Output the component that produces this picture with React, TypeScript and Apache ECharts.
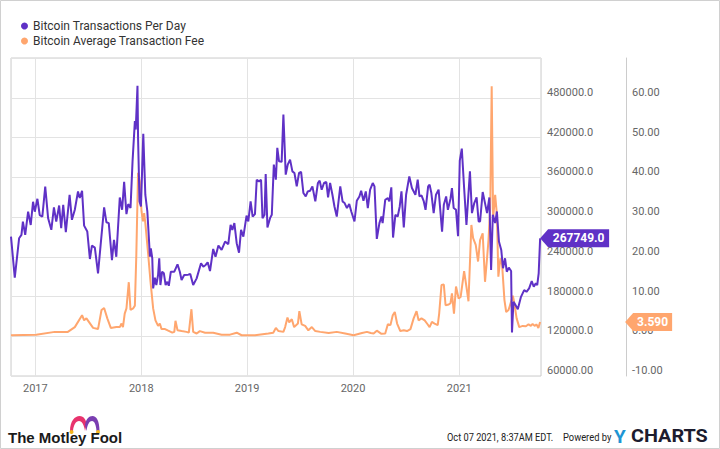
import React, { useEffect, useRef } from "react";
import * as echarts from "echarts";

const txDates = [
  "2016-10-09","2016-10-22","2016-11-06","2016-11-14","2016-11-19","2016-11-27","2016-12-07","2016-12-16","2016-12-24","2016-12-30",
  "2017-01-08","2017-01-16","2017-01-25","2017-02-04","2017-02-14","2017-02-25","2017-03-06","2017-03-14","2017-03-24","2017-03-31",
  "2017-04-07","2017-04-16","2017-04-29","2017-05-07","2017-05-17","2017-05-28","2017-06-03","2017-06-11","2017-06-18","2017-06-29",
  "2017-07-08","2017-07-15","2017-07-25","2017-08-05","2017-08-14","2017-08-26","2017-09-03","2017-09-11","2017-09-22","2017-09-29",
  "2017-10-07","2017-10-19","2017-10-27","2017-11-03","2017-11-11","2017-11-17","2017-11-25","2017-12-02","2017-12-10","2017-12-13",
  "2017-12-19","2017-12-21","2017-12-26","2017-12-31","2018-01-08","2018-01-15","2018-01-22","2018-01-31","2018-02-03","2018-02-08",
  "2018-02-11","2018-02-17","2018-02-22","2018-02-28","2018-03-04","2018-03-08","2018-03-14","2018-03-20","2018-03-26","2018-04-01",
  "2018-04-06","2018-04-13","2018-04-25","2018-05-06","2018-05-14","2018-05-20","2018-05-29","2018-06-12","2018-06-19","2018-06-29",
  "2018-07-11","2018-07-26","2018-08-03","2018-08-11","2018-08-18","2018-08-26","2018-09-06","2018-09-14","2018-09-24","2018-10-05",
  "2018-10-17","2018-10-28","2018-11-05","2018-11-11","2018-11-18","2018-11-26","2018-12-04","2018-12-11","2018-12-19","2018-12-30",
  "2019-01-05","2019-01-13","2019-01-20","2019-01-28","2019-02-03","2019-02-11","2019-02-18","2019-02-23","2019-03-02","2019-03-06",
  "2019-03-12","2019-03-21","2019-03-27","2019-04-03","2019-04-10","2019-04-15","2019-04-21","2019-04-30","2019-05-06","2019-05-14",
  "2019-05-21","2019-05-29","2019-06-06","2019-06-13","2019-06-21","2019-06-29","2019-07-06","2019-07-14","2019-07-22","2019-07-29",
  "2019-08-06","2019-08-14","2019-08-24","2019-09-02","2019-09-08","2019-09-15","2019-09-23","2019-10-01","2019-10-07","2019-10-14",
  "2019-10-22","2019-10-29","2019-11-06","2019-11-18","2019-11-26","2019-12-03","2019-12-11","2019-12-19","2019-12-26","2020-01-06",
  "2020-01-14","2020-01-23","2020-01-29","2020-02-06","2020-02-14","2020-02-21","2020-02-29","2020-03-09","2020-03-15","2020-03-23",
  "2020-04-01","2020-04-08","2020-04-12","2020-04-21","2020-04-30","2020-05-05","2020-05-12","2020-05-18","2020-05-26","2020-06-03",
  "2020-06-10","2020-06-16","2020-06-24","2020-07-02","2020-07-13","2020-07-22","2020-08-03","2020-08-11","2020-08-17","2020-08-24",
  "2020-09-01","2020-09-07","2020-09-16","2020-09-21","2020-09-27","2020-10-05","2020-10-13","2020-10-22","2020-11-03","2020-11-09",
  "2020-11-17","2020-11-23","2020-12-02","2020-12-07","2020-12-13","2020-12-21","2020-12-28","2021-01-03","2021-01-10","2021-01-18",
  "2021-01-26","2021-02-07","2021-02-14","2021-02-22","2021-03-02","2021-03-09","2021-03-14","2021-03-23","2021-03-31","2021-04-07",
  "2021-04-15","2021-04-21","2021-04-27","2021-05-05","2021-05-11","2021-05-18","2021-05-26","2021-06-01","2021-06-08","2021-06-14",
  "2021-06-21","2021-06-29","2021-07-02","2021-07-07","2021-07-14","2021-07-22","2021-08-02","2021-08-13","2021-08-21","2021-08-30",
  "2021-09-08","2021-09-15","2021-09-22","2021-09-27","2021-10-02","2021-10-07"
];
const txValues = [
  270400,208300,268000,273000,293000,273000,308000,288000,323000,308000,
  327500,303000,300700,346000,298000,280600,314400,293000,317400,283000,
  318500,277000,333600,295700,311000,338600,328600,339700,287000,278000,
  236600,256800,253800,215000,258000,314400,292000,290700,235000,265400,
  240000,329500,311000,353000,304400,319500,313500,384000,444700,432000,
  498000,419500,323500,316000,425500,333600,308300,240000,252800,237700,
  192300,208300,197300,212400,237700,197300,217400,215000,197300,202300,
  196200,217400,217400,228600,217400,204800,212400,213000,214000,197300,
  207400,230100,225000,227600,231600,218500,251800,240000,256800,250300,
  262900,259000,288200,280600,290800,260500,246200,280600,270400,302200,
  293200,323500,300700,304400,356300,353800,356300,298300,303300,365000,
  284100,298300,303300,379000,356300,404400,384000,383200,454800,364000,
  379000,386600,368900,366500,346200,366500,368000,336200,331000,338600,
  339700,346200,323500,351300,354800,341200,351300,352800,329500,351300,
  333600,315900,300700,346200,323500,321000,313500,319500,308300,293200,
  324500,331000,339700,324500,338600,313400,341200,351300,346200,267000,
  290800,300700,290800,326000,328600,323500,344700,269000,303300,300700,
  315900,338600,284100,333600,361300,343700,333600,356300,331000,332600,
  323500,310900,346200,348800,336200,305900,333600,341200,278000,318500,
  331000,310900,327600,343700,313500,310900,271000,385100,403300,343700,
  288200,368900,305900,321000,329500,293200,293200,337700,321000,305900,
  329500,220000,303300,290800,308300,262900,250300,222600,237700,217400,
  223500,218500,125600,172000,167000,160900,179500,189700,187100,192300,
  203300,194700,199800,197300,215000,267749
];

const feeDates = [
  "2016-10-09","2017-01-04","2017-03-09","2017-04-23","2017-05-17","2017-06-11","2017-06-18","2017-06-26","2017-07-19","2017-08-05",
  "2017-08-17","2017-08-26","2017-09-06","2017-09-18","2017-10-07","2017-10-19","2017-10-25","2017-10-30","2017-11-05","2017-11-11",
  "2017-11-19","2017-11-25","2017-12-04","2017-12-10","2017-12-15","2017-12-21","2017-12-27","2018-01-02","2018-01-07","2018-01-11",
  "2018-01-15","2018-01-25","2018-02-02","2018-02-11","2018-02-19","2018-02-28","2018-03-06","2018-03-12","2018-03-24","2018-04-04",
  "2018-04-18","2018-04-25","2018-04-29","2018-05-06","2018-05-20","2018-06-06","2018-06-14","2018-06-23","2018-06-29","2018-07-11",
  "2018-07-22","2018-08-09","2018-09-06","2018-10-05","2018-11-03","2018-11-26","2018-12-13","2019-01-28","2019-03-15","2019-04-01",
  "2019-04-10","2019-04-19","2019-05-06","2019-05-12","2019-05-20","2019-05-26","2019-06-04","2019-06-12","2019-06-25","2019-06-30",
  "2019-07-08","2019-07-20","2019-07-31","2019-08-12","2019-08-24","2019-09-10","2019-10-09","2019-11-06","2019-12-05","2020-01-03",
  "2020-02-01","2020-02-18","2020-03-02","2020-03-12","2020-03-23","2020-04-08","2020-04-21","2020-04-30","2020-05-09","2020-05-17",
  "2020-05-24","2020-06-01","2020-06-12","2020-06-24","2020-07-05","2020-07-17","2020-07-28","2020-08-07","2020-08-14","2020-08-24",
  "2020-09-04","2020-09-12","2020-09-21","2020-09-29","2020-10-08","2020-10-19","2020-10-24","2020-11-01","2020-11-09","2020-11-15",
  "2020-11-26","2020-12-02","2020-12-07","2020-12-14","2020-12-21","2020-12-30","2021-01-06","2021-01-18","2021-01-26","2021-02-02",
  "2021-02-12","2021-02-18","2021-02-27","2021-03-07","2021-03-14","2021-03-23","2021-03-31","2021-04-07","2021-04-12","2021-04-18",
  "2021-04-23","2021-04-28","2021-05-05","2021-05-11","2021-05-16","2021-05-23","2021-05-29","2021-06-06","2021-06-12","2021-06-20",
  "2021-06-29","2021-07-05","2021-07-10","2021-07-18","2021-07-27","2021-08-08","2021-08-19","2021-08-28","2021-09-05","2021-09-11",
  "2021-09-19","2021-09-24","2021-10-01","2021-10-07"
];
const feeValues = [
  0.25,0.4,1.1,1.1,2.3,5.3,4.0,4.5,2.1,1.8,
  6.6,7.1,4.5,2.1,2.3,2.3,3.2,2.3,5.7,7.0,
  13.6,6.6,7.0,7.7,20.5,41.1,39.0,31.4,28.9,31.0,
  28.5,20.5,13.7,7.0,4.0,2.6,3.2,1.8,1.8,1.4,
  0.9,1.1,3.9,1.5,1.3,1.1,0.9,6.8,1.1,0.7,
  1.3,0.9,0.9,0.4,0.4,0.9,0.25,0.25,0.7,0.9,
  2.1,1.3,1.1,2.3,4.7,3.5,4.3,2.3,3.2,6.3,
  3.0,2.6,1.5,2.3,1.3,1.1,0.8,1.1,0.7,0.25,
  0.8,1.1,0.8,0.7,1.4,0.6,0.7,3.0,2.8,5.3,
  6.1,3.2,1.3,1.5,1.3,1.8,4.5,6.3,4.0,4.5,
  4.0,3.2,2.3,3.6,3.2,2.8,5.7,12.9,13.0,7.8,
  8.0,8.3,10.8,5.7,12.5,9.5,9.9,16.4,12.4,8.8,
  28.0,24.7,23.0,18.8,24.2,25.9,13.7,19.6,24.2,32.2,
  62.9,29.7,35.6,30.6,15.0,19.6,17.9,9.1,6.1,6.6,
  8.7,10.2,8.3,4.5,2.3,2.6,2.5,3.0,2.6,3.1,
  2.6,3.0,2.1,3.59
];

const seriesNames = ["Bitcoin Transactions Per Day", "Bitcoin Average Transaction Fee"];
const txAxis = { min: 60000, max: 540000, interval: 60000 };
const feeAxis = { min: -10, max: 70, interval: 10 };
const xRange = { min: "2016-10-09", max: "2021-10-10" };

const PURPLE = "#5f31c6";
const ORANGE = "#ffa66e";
const FONT = "Roboto, 'Noto Sans', sans-serif";

let shapesRegistered = false;
function registerShapes() {
  if (shapesRegistered) return;
  shapesRegistered = true;
  echarts.graphic.registerShape(
    "hatPink",
    echarts.graphic.extendPath(
      "M70,431 C70,421 75,416 79.5,416 C84,416 86.5,420 86.5,425 L85,431 C84,425 82,421 79,421 C76,421 73.5,425 73,431 Z",
      {}
    )
  );
  echarts.graphic.registerShape(
    "hatPurple",
    echarts.graphic.extendPath(
      "M85,425 C86,419 89,416 92.5,416 C96.5,416 99.5,421 99.5,431 L96.5,431 C96,425 94.5,421 92,421 C89.5,421 87.5,424 86.5,431 Z",
      {}
    )
  );
}

export default function App() {
  const ref = useRef<HTMLDivElement>(null);
  useEffect(() => {
    document.body.style.margin = "0";
    registerShapes();
    const chart = echarts.init(ref.current!, null, { renderer: "svg" });
    const txData = txDates.map((d, i) => [d, txValues[i]]);
    const feeData = feeDates.map((d, i) => [d, feeValues[i]]);
    const lastTx = txData[txData.length - 1];
    const lastFee = feeData[feeData.length - 1];
    const FEE_OFFSET = 85;

    chart.setOption({
      animation: false,
      backgroundColor: "#ffffff",
      textStyle: { fontFamily: FONT },
      legend: {
        orient: "vertical",
        left: 16,
        top: 15,
        icon: "circle",
        itemWidth: 7,
        itemHeight: 7,
        itemGap: 3,
        textStyle: { fontSize: 12, color: "#333", fontFamily: FONT },
        data: seriesNames,
      },
      grid: {
        left: 11,
        right: 179,
        top: 58,
        bottom: 73,
        show: true,
        borderColor: "#cccccc",
        borderWidth: 1,
      },
      xAxis: {
        type: "time",
        min: xRange.min,
        max: xRange.max,
        splitNumber: 5,
        minInterval: 365 * 24 * 3600 * 1000,
        maxInterval: 366 * 24 * 3600 * 1000,
        axisLine: { show: false },
        axisTick: { show: false },
        splitLine: { show: true, lineStyle: { color: "#e3e3e3", width: 1 } },
        axisLabel: {
          color: "#666",
          fontSize: 11,
          fontFamily: FONT,
          margin: 7,
          formatter: (v: number) => {
            const d = new Date(v);
            return d.getMonth() === 0 && d.getDate() === 1 ? String(d.getFullYear()) : "";
          },
        },
      },
      yAxis: [
        {
          type: "value",
          position: "right",
          min: txAxis.min,
          max: txAxis.max,
          interval: txAxis.interval,
          axisLine: { show: false },
          axisTick: { show: false },
          splitLine: { show: true, lineStyle: { color: "#e3e3e3", width: 1 } },
          axisLabel: {
            showMaxLabel: false,
            color: "#666",
            fontSize: 11,
            fontFamily: FONT,
            margin: 6,
            verticalAlign: "bottom",
            formatter: (v: number) => (v >= 100000 ? v.toFixed(1) : v.toFixed(2)),
          },
        },
        {
          type: "value",
          position: "right",
          offset: FEE_OFFSET,
          min: feeAxis.min,
          max: feeAxis.max,
          interval: feeAxis.interval,
          axisLine: { show: true, lineStyle: { color: "#cccccc", width: 1 } },
          axisTick: { show: false },
          splitLine: { show: false },
          axisLabel: {
            showMaxLabel: false,
            color: "#666",
            fontSize: 11,
            fontFamily: FONT,
            margin: 6,
            verticalAlign: "bottom",
            formatter: (v: number) => v.toFixed(2),
          },
        },
      ],
      series: [
        {
          name: seriesNames[0],
          type: "line",
          yAxisIndex: 0,
          data: txData,
          showSymbol: false,
          symbol: "none",
          color: PURPLE,
          lineStyle: { color: PURPLE, width: 2 },
          z: 3,
          markPoint: {
            silent: true,
            symbol: "path://M0,9L8,0L69,0L69,18L8,18Z",
            symbolSize: [69, 18],
            symbolKeepAspect: false,
            symbolOffset: [34.5, 0],
            itemStyle: { color: PURPLE },
            label: {
              show: true,
              position: "inside",
              offset: [4, 0],
              color: "#fff",
              fontWeight: "bold",
              fontSize: 12,
              fontFamily: FONT,
              formatter: () => (lastTx[1] as number).toFixed(1),
            },
            data: [{ coord: lastTx }],
          },
        },
        {
          name: seriesNames[1],
          type: "line",
          yAxisIndex: 1,
          data: feeData,
          showSymbol: false,
          symbol: "none",
          color: ORANGE,
          lineStyle: { color: ORANGE, width: 2 },
          z: 2,
          markPoint: {
            silent: true,
            symbol: "path://M0,9L8,0L47,0L47,18L8,18Z",
            symbolSize: [47, 18],
            symbolKeepAspect: false,
            symbolOffset: [FEE_OFFSET + 23.5, 0],
            itemStyle: { color: ORANGE },
            label: {
              show: true,
              position: "inside",
              offset: [4, 0],
              color: "#fff",
              fontWeight: "bold",
              fontSize: 12,
              fontFamily: FONT,
              formatter: () => (lastFee[1] as number).toFixed(3),
            },
            data: [{ coord: lastFee }],
          },
        },
      ],
      graphic: [
        {
          type: "rect",
          silent: true,
          shape: { x: 0.5, y: 0.5, width: 719, height: 448 },
          style: { fill: "none", stroke: "#d0d0d0", lineWidth: 1 },
        },
        { type: "hatPink", silent: true, style: { fill: "#e8336d" } },
        { type: "hatPurple", silent: true, style: { fill: "#7a3eb1" } },
        { type: "circle", silent: true, shape: { cx: 71.5, cy: 432, r: 2 }, style: { fill: "#f5b71d" } },
        { type: "circle", silent: true, shape: { cx: 98, cy: 432, r: 2 }, style: { fill: "#f5b71d" } },
        {
          type: "text",
          silent: true,
          x: 8,
          y: 437,
          style: {
            text: "The Motley Fool",
            fill: "#1a1a1a",
            font: "bold 15px 'Liberation Sans', Arial, sans-serif",
            verticalAlign: "middle",
          },
        },
        {
          type: "text",
          silent: true,
          x: 447,
          y: 437,
          scaleX: 0.84,
          style: {
            text: "Oct 07 2021, 8:37AM EDT.",
            fill: "#222",
            font: "11px Roboto, sans-serif",
            verticalAlign: "middle",
          },
        },
        {
          type: "text",
          silent: true,
          x: 563,
          y: 437,
          scaleX: 0.85,
          style: {
            text: "Powered by",
            fill: "#222",
            font: "11px Roboto, sans-serif",
            verticalAlign: "middle",
          },
        },
        {
          type: "text",
          silent: true,
          x: 614,
          y: 436,
          style: {
            text: "Y",
            fill: "#1e95d4",
            font: "bold 19px Roboto, sans-serif",
            verticalAlign: "middle",
          },
        },
        {
          type: "text",
          silent: true,
          x: 631,
          y: 436,
          scaleX: 1.1,
          style: {
            text: "CHARTS",
            fill: "#1c1c2e",
            font: "bold 18px Roboto, sans-serif",
            verticalAlign: "middle",
          },
        },
      ],
    });
    return () => chart.dispose();
  }, []);
  return <div ref={ref} style={{ width: 720, height: 449 }} />;
}
